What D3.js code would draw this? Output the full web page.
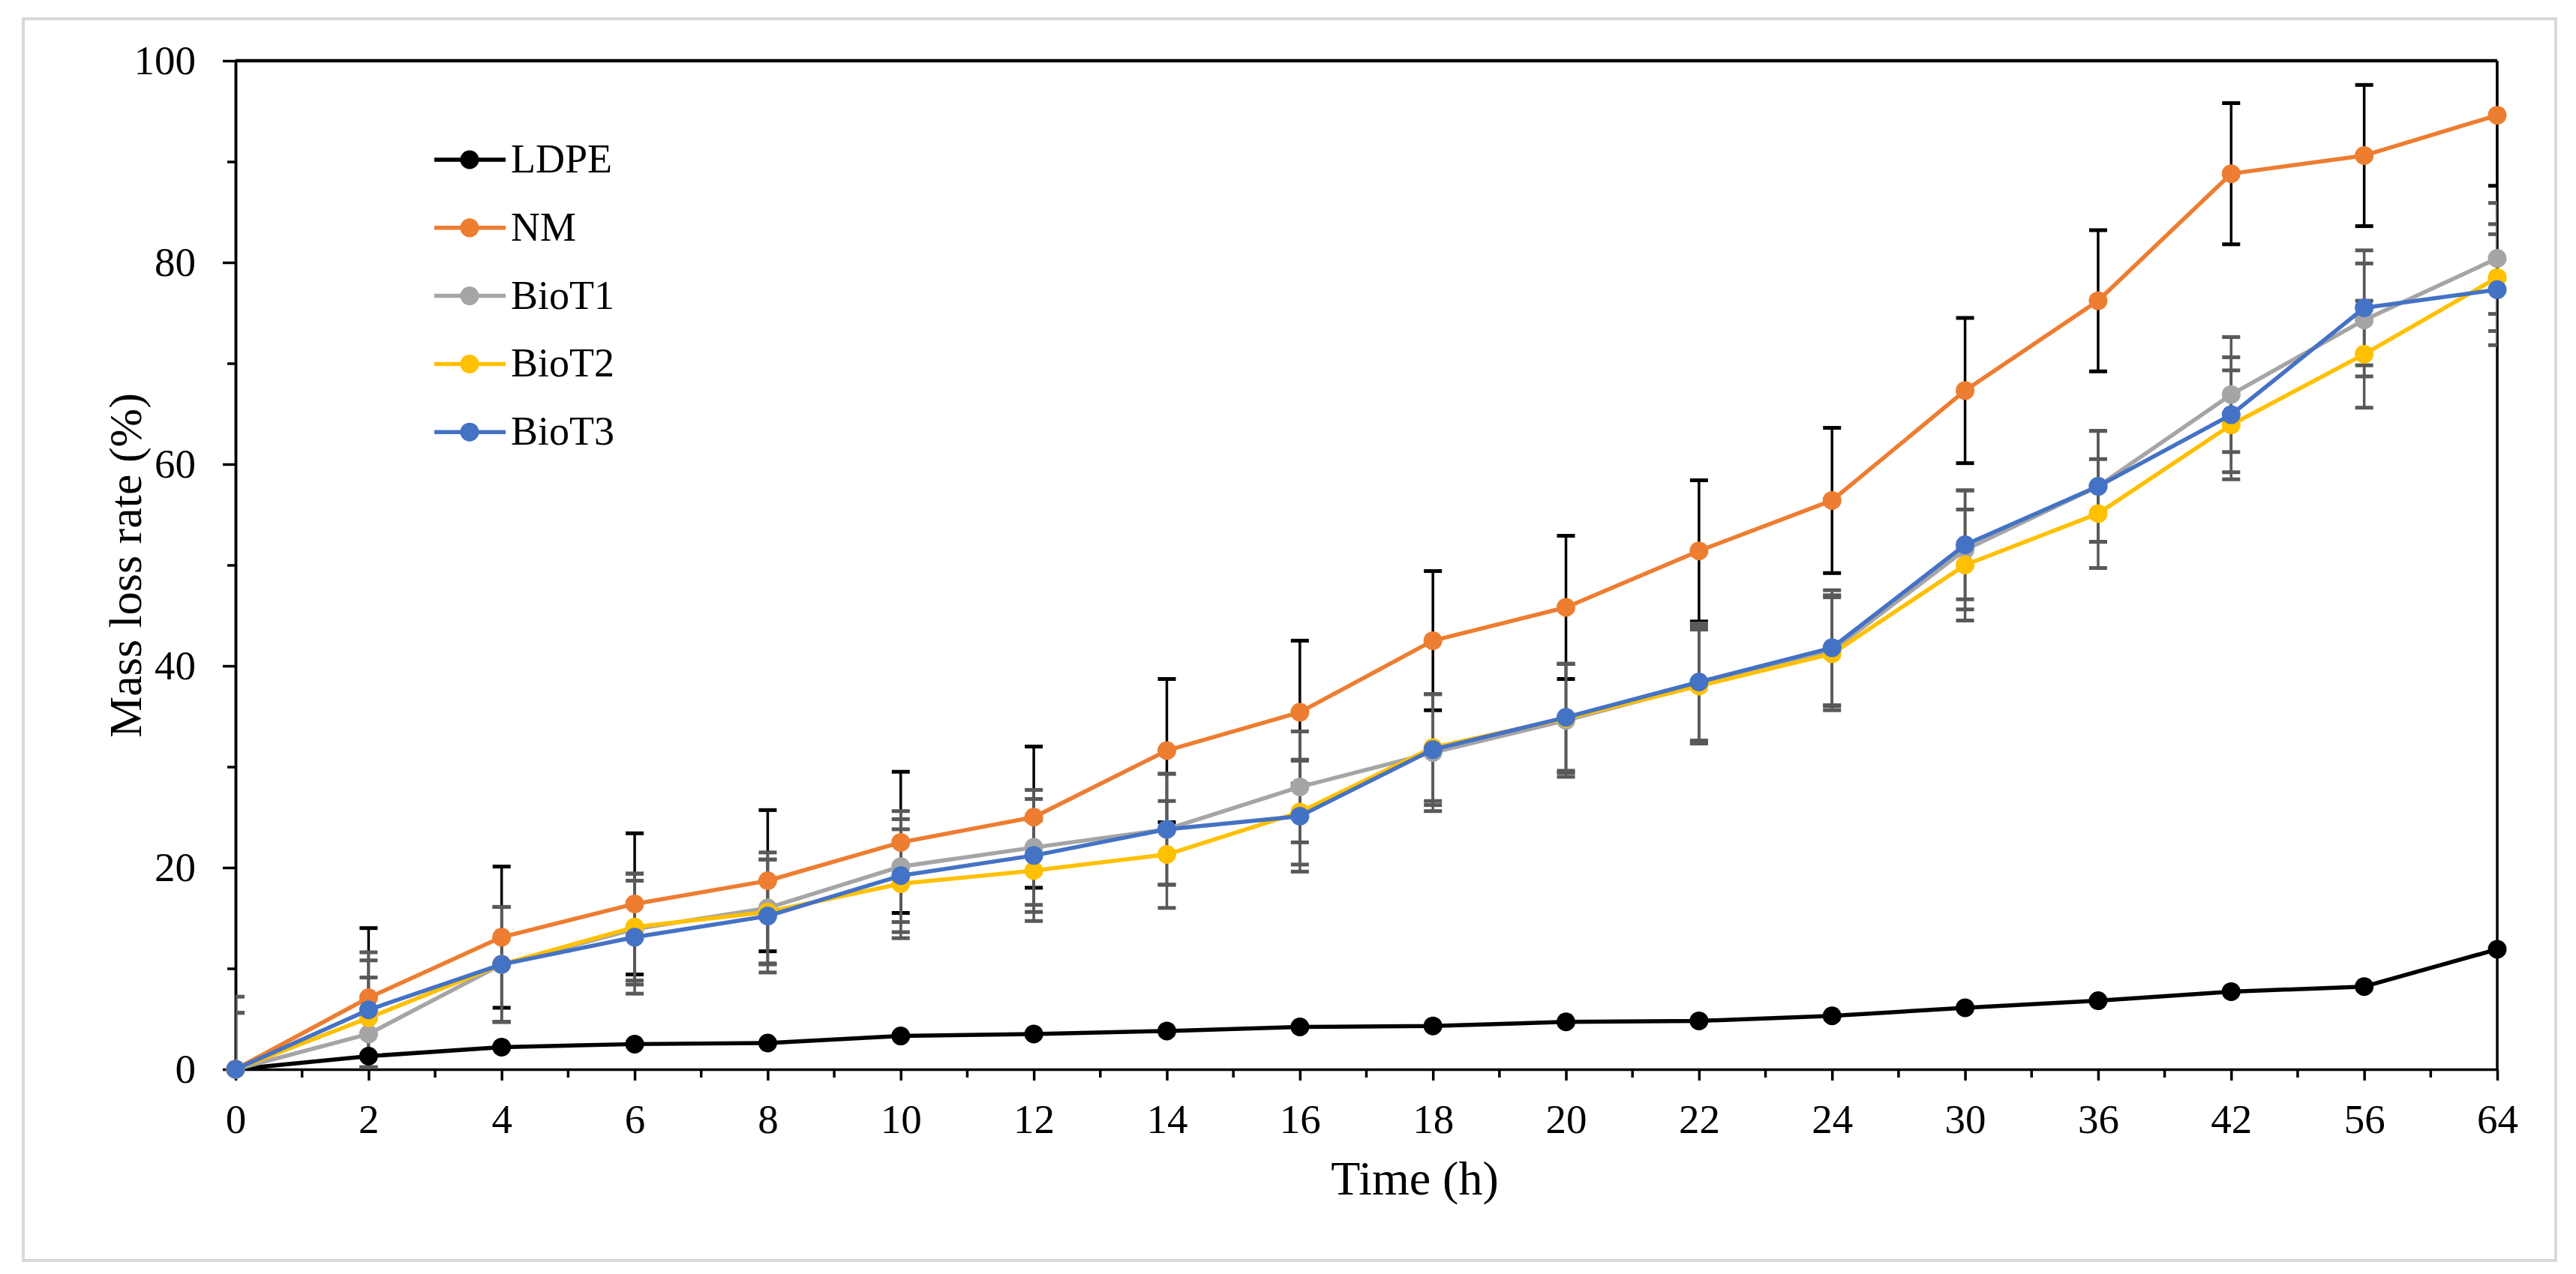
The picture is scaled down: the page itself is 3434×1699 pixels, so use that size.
<!DOCTYPE html>
<html>
<head>
<meta charset="utf-8">
<script src="https://cdn.jsdelivr.net/npm/d3@7"></script>
<style>
  body { margin: 0; background: #fff; }
  text { font-family: "Liberation Serif", "Times New Roman", serif; fill: #000; }
</style>
</head>
<body>
<div id="chart"></div>
<script>
// Categories on the x axis (equally spaced, Excel line chart style)
var times = ["0", "2", "4", "6", "8", "10", "12", "14", "16", "18", "20", "22", "24", "30", "36", "42", "56", "64"];

// Series values (mass loss rate, %)
var ldpe  = [0, 1.3, 2.2, 2.5, 2.6, 3.3, 3.5, 3.8, 4.2, 4.3, 4.7, 4.8, 5.3, 6.1, 6.8, 7.7, 8.2, 11.9];
var nm    = [0, 7.1, 13.1, 16.4, 18.7, 22.5, 25.0, 31.6, 35.4, 42.5, 45.8, 51.4, 56.4, 67.3, 76.2, 88.8, 90.6, 94.6];
var bioT1 = [0, 3.5, 10.4, 13.9, 16.0, 20.1, 22.0, 23.8, 28.0, 31.4, 34.6, 38.1, 41.5, 51.5, 57.8, 66.9, 74.3, 80.4];
var bioT2 = [0, 5.1, 10.4, 14.1, 15.6, 18.4, 19.7, 21.3, 25.5, 31.9, 34.8, 38.0, 41.2, 50.0, 55.1, 63.9, 70.9, 78.5];
var bioT3 = [0, 5.9, 10.4, 13.1, 15.2, 19.2, 21.2, 23.8, 25.1, 31.7, 34.9, 38.4, 41.8, 52.0, 57.8, 64.9, 75.5, 77.3];

// Error bar half-widths (+/-)
var ldpeErr  = [0, 0, 0, 0, 0, 0, 0, 0, 0, 0, 0, 0, 0, 0, 0, 0, 0, 0];
var nmErr    = [0, 6.9, 7.0, 7.0, 7.0, 7.0, 7.0, 7.1, 7.1, 6.9, 7.1, 7.0, 7.2, 7.2, 7.0, 7.0, 7.0, 7.0];
var bioT1Err = [7.2, 5.6, 5.7, 5.5, 5.5, 5.5, 5.7, 5.5, 5.5, 5.8, 5.6, 5.8, 5.5, 5.9, 5.5, 5.7, 5.6, 5.5];
var bioT2Err = [5.6, 5.7, 5.7, 5.3, 5.2, 5.4, 5.0, 5.3, 5.2, 5.3, 5.4, 5.6, 5.6, 5.5, 5.4, 5.4, 5.3, 5.3];
var bioT3Err = [5.6, 5.7, 5.7, 5.6, 5.6, 5.6, 5.6, 5.5, 5.5, 5.5, 5.3, 5.8, 5.7, 5.4, 5.5, 5.7, 5.7, 5.5];

// Y axis ticks
var yMajorTicks = [0, 20, 40, 60, 80, 100];
var yMinorTicks = [10, 30, 50, 70, 90];

var seriesNames = ["LDPE", "NM", "BioT1", "BioT2", "BioT3"];

// Build series table from the arrays above
var series = [
  {name: "LDPE",  values: ldpe,  err: ldpeErr,  color: "#000000", errColor: "#000000"},
  {name: "NM",    values: nm,    err: nmErr,    color: "#ED7D31", errColor: "#000000"},
  {name: "BioT1", values: bioT1, err: bioT1Err, color: "#A5A5A5", errColor: "#595959"},
  {name: "BioT2", values: bioT2, err: bioT2Err, color: "#FFC000", errColor: "#595959"},
  {name: "BioT3", values: bioT3, err: bioT3Err, color: "#4472C4", errColor: "#595959"}
];

var svgWidth = 3434;
var svgHeight = 1699;

var margin = {top: 81, right: 105, bottom: 273, left: 314};
var width = svgWidth - margin.left - margin.right;
var height = svgHeight - margin.top - margin.bottom;

var svg = d3.select("#chart")
  .append("svg")
  .attr("width", svgWidth)
  .attr("height", svgHeight);

svg.append("rect")
  .attr("width", svgWidth)
  .attr("height", svgHeight)
  .attr("fill", "#fff");

// light grey frame around the whole figure
svg.append("rect")
  .attr("x", 31)
  .attr("y", 25)
  .attr("width", 3376)
  .attr("height", 1656)
  .attr("fill", "none")
  .attr("stroke", "#d9d9d9")
  .attr("stroke-width", 4);

var chartGroup = svg.append("g")
  .attr("transform", `translate(${margin.left}, ${margin.top})`);

// Scales
var xScale = d3.scalePoint()
  .domain(times)
  .range([0, width])
  .padding(0);

var yScale = d3.scaleLinear()
  .domain([0, 100])
  .range([height, 0]);

// clip for error bars (Excel clips them at the plot area)
svg.append("defs").append("clipPath")
  .attr("id", "plotClip")
  .append("rect")
  .attr("x", 0)
  .attr("y", 0)
  .attr("width", width)
  .attr("height", height);

// Axes
var leftAxis = d3.axisLeft(yScale)
  .tickValues(yMajorTicks)
  .tickSize(17)
  .tickSizeOuter(0)
  .tickPadding(36)
  .tickFormat(d3.format("d"));

var leftMinor = d3.axisLeft(yScale)
  .tickValues(yMinorTicks)
  .tickSize(11)
  .tickSizeOuter(0)
  .tickFormat("");

var bottomAxis = d3.axisBottom(xScale)
  .tickSize(15)
  .tickSizeOuter(0)
  .tickPadding(31);

var yAxisG = chartGroup.append("g").call(leftAxis);
var yMinorG = chartGroup.append("g").call(leftMinor);
var xAxisG = chartGroup.append("g")
  .attr("transform", `translate(0, ${height})`)
  .call(bottomAxis);

[yAxisG, yMinorG, xAxisG].forEach(function (g) {
  g.select(".domain").attr("stroke", "#000").attr("stroke-width", 3.5);
  g.selectAll(".tick line").attr("stroke", "#000").attr("stroke-width", 3.5);
  g.selectAll(".tick text")
    .style("font-family", "'Liberation Serif', 'Times New Roman', serif")
    .style("font-size", "55px")
    .attr("fill", "#000");
});

// minor ticks on x axis, half way between categories
var midPoints = times.slice(0, -1).map(function (t, i) {
  return (xScale(t) + xScale(times[i + 1])) / 2;
});
chartGroup.append("g")
  .selectAll("line")
  .data(midPoints)
  .enter()
  .append("line")
  .attr("x1", d => d)
  .attr("x2", d => d)
  .attr("y1", height)
  .attr("y2", height + 11)
  .attr("stroke", "#000")
  .attr("stroke-width", 3.5);

// top and right border of plot area
chartGroup.append("line")
  .attr("x1", 0)
  .attr("x2", xScale(times[times.length - 1]))
  .attr("y1", yScale(100))
  .attr("y2", yScale(100))
  .attr("stroke", "#000")
  .attr("stroke-width", 4.5);

chartGroup.append("line")
  .attr("x1", xScale(times[times.length - 1]))
  .attr("x2", xScale(times[times.length - 1]))
  .attr("y1", yScale(100))
  .attr("y2", yScale(0))
  .attr("stroke", "#000")
  .attr("stroke-width", 3.5);

// Error bars
var errGroup = chartGroup.append("g").attr("clip-path", "url(#plotClip)");
var capHalf = 12;

series.forEach(function (s) {
  var rows = times.map(function (t, i) {
    return {t: t, v: s.values[i], e: s.err[i]};
  }).filter(d => d.e > 0);

  var g = errGroup.append("g")
    .attr("stroke", s.errColor)
    .attr("stroke-width", 3.5);

  g.selectAll(".stem")
    .data(rows)
    .enter()
    .append("line")
    .attr("x1", d => xScale(d.t))
    .attr("x2", d => xScale(d.t))
    .attr("y1", d => yScale(d.v - d.e))
    .attr("y2", d => yScale(d.v + d.e));

  g.selectAll(".capTop")
    .data(rows)
    .enter()
    .append("line")
    .attr("x1", d => xScale(d.t) - capHalf)
    .attr("x2", d => xScale(d.t) + capHalf)
    .attr("y1", d => yScale(d.v + d.e))
    .attr("y2", d => yScale(d.v + d.e))
    .attr("stroke-width", 5);

  g.selectAll(".capBottom")
    .data(rows)
    .enter()
    .append("line")
    .attr("x1", d => xScale(d.t) - capHalf)
    .attr("x2", d => xScale(d.t) + capHalf)
    .attr("y1", d => yScale(d.v - d.e))
    .attr("y2", d => yScale(d.v - d.e))
    .attr("stroke-width", 5);
});

// Lines and markers
var lineGen = d3.line()
  .x(d => xScale(d.t))
  .y(d => yScale(d.v));

series.forEach(function (s) {
  var pts = times.map(function (t, i) {
    return {t: t, v: s.values[i]};
  });

  chartGroup.append("path")
    .datum(pts)
    .attr("d", lineGen)
    .attr("fill", "none")
    .attr("stroke", s.color)
    .attr("stroke-width", 5.5)
    .attr("stroke-linejoin", "round");

  chartGroup.append("g")
    .selectAll("circle")
    .data(pts)
    .enter()
    .append("circle")
    .attr("cx", d => xScale(d.t))
    .attr("cy", d => yScale(d.v))
    .attr("r", 12.5)
    .attr("fill", s.color);
});

// Legend
var legend = svg.append("g")
  .attr("transform", "translate(579, 213)");

var legendItems = legend.selectAll("g")
  .data(series)
  .enter()
  .append("g")
  .attr("transform", (d, i) => `translate(0, ${i * 90.8})`);

legendItems.append("line")
  .attr("x1", 0)
  .attr("x2", 95)
  .attr("y1", 0)
  .attr("y2", 0)
  .attr("stroke", d => d.color)
  .attr("stroke-width", 5.5);

legendItems.append("circle")
  .attr("cx", 47)
  .attr("cy", 0)
  .attr("r", 12.5)
  .attr("fill", d => d.color);

legendItems.append("text")
  .attr("x", 102)
  .attr("y", 17)
  .style("font-size", "54px")
  .text(d => d.name);

// Axis titles
svg.append("text")
  .attr("x", 1886)
  .attr("y", 1593)
  .style("font-size", "64px")
  .style("text-anchor", "middle")
  .text("Time (h)");

svg.append("text")
  .attr("transform", "rotate(-90)")
  .attr("x", -754)
  .attr("y", 188)
  .style("font-size", "62px")
  .style("text-anchor", "middle")
  .text("Mass loss rate (%)");
</script>
</body>
</html>
